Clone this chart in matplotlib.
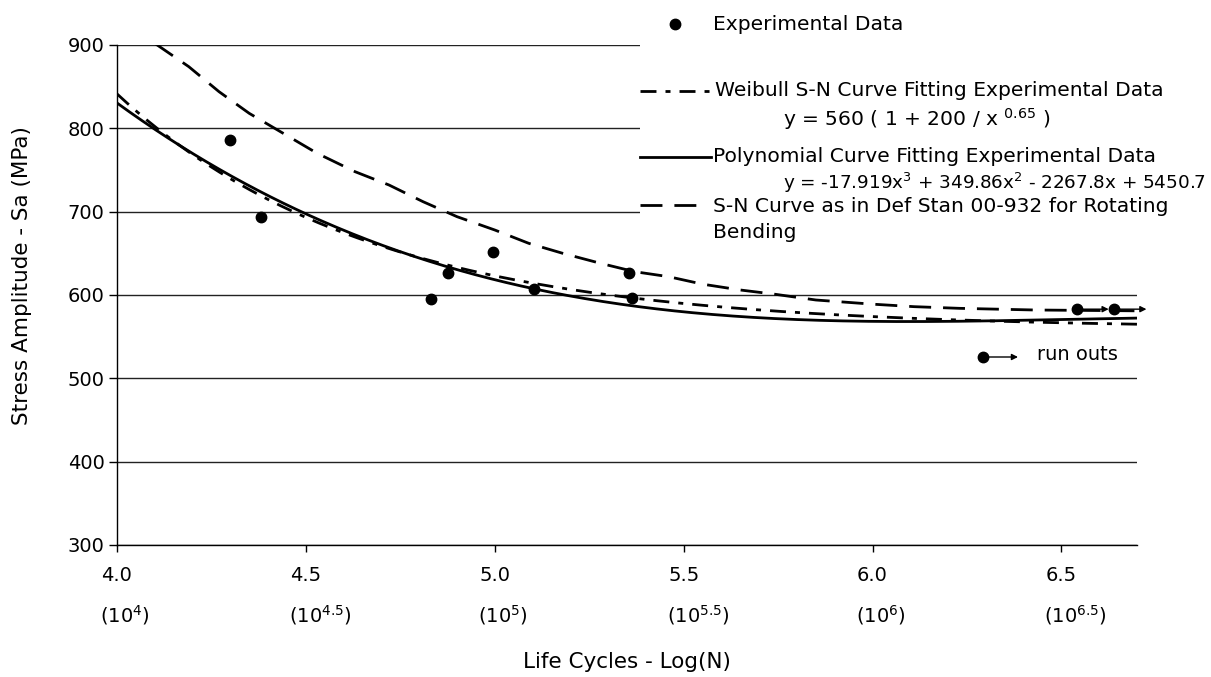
import matplotlib
matplotlib.use("Agg")
import numpy as np
import matplotlib.pyplot as plt
import matplotlib.transforms as mtransforms
from matplotlib.lines import Line2D
from matplotlib.patches import Rectangle, FancyArrowPatch

plt.rcParams["font.family"] = ["DejaVu Sans"]
plt.rcParams["mathtext.fontset"] = "dejavusans"
plt.rcParams["lines.scale_dashes"] = False

# ---- data -------------------------------------------------------------
# experimental fatigue results (log10 of cycles, stress amplitude in MPa)
exp_log_n = [4.30, 4.38, 4.83, 4.875, 4.995, 5.105, 5.355, 5.364]
exp_sa = [786, 694, 595, 626, 652, 607, 626, 596]

# specimens that did not fail (run outs)
runout_log_n = [6.54, 6.64]
runout_sa = [583, 583]

# Weibull S-N fit: y = S0 * (1 + A / N^B)
weibull_s0 = 560
weibull_a = 200
weibull_b = 0.65

# cubic polynomial fit in log(N)
poly_coef = [-17.919, 349.86, -2267.8, 5450.7]

# Def Stan 00-932 rotating bending curve
defstan_log_n = [4.10, 4.19, 4.27, 4.35, 4.44, 4.53, 4.63, 4.72, 4.81, 4.90,
                 5.00, 5.09, 5.18, 5.28, 5.37, 5.46, 5.55, 5.65, 5.74, 5.85,
                 6.00, 6.11, 6.23, 6.43, 6.70]
defstan_sa = [902, 874, 844, 818, 794, 770, 748, 732, 712, 694,
              678, 662, 650, 638, 628, 622, 613, 606, 601, 594,
              589, 586, 584, 582, 581]

x_ticks = [4.0, 4.5, 5.0, 5.5, 6.0, 6.5]
x_exponents = ["4", "4.5", "5", "5.5", "6", "6.5"]
y_ticks = [300, 400, 500, 600, 700, 800, 900]

# ---- styles -----------------------------------------------------------
FS = 14          # tick labels
FS_LEG = 14.6    # legend entries
FS_EQ = 13.2     # fitted equations
FS_AX = 15.5     # axis titles
W, H = 1211, 677
LW = 2.0
weibull_style = dict(color="black", lw=LW, linestyle=(0, (11.5, 6.5, 3.6, 6.5)))
poly_style = dict(color="black", lw=LW, linestyle="-")
defstan_style = dict(color="black", lw=LW, linestyle=(0, (15.8, 8.6)))
marker_style = dict(marker="o", markersize=7.5, color="black", linestyle="none")

fig = plt.figure(figsize=(W / 100, H / 100), dpi=100)
ax = fig.add_axes([117 / W, 132 / H, 1020 / W, 500 / H])


def fx(px):
    return px / W


def fy(py):
    return 1 - py / H


# ---- curves -----------------------------------------------------------
log_n = np.linspace(4.0, 6.7, 400)
weibull_sa = weibull_s0 * (1 + weibull_a / (10 ** log_n) ** weibull_b)
poly_sa = np.polyval(poly_coef, log_n)

ax.plot(log_n, weibull_sa, **weibull_style, zorder=3)
ax.plot(log_n, poly_sa, **poly_style, zorder=3)
ax.plot(defstan_log_n, defstan_sa, **defstan_style, zorder=3)

ax.plot(exp_log_n, exp_sa, **marker_style, zorder=4)
ax.plot(runout_log_n, runout_sa, **marker_style, zorder=4)
for xr, yr in zip(runout_log_n, runout_sa):
    ax.annotate("", xy=(xr + 0.085, yr), xytext=(xr, yr),
                arrowprops=dict(arrowstyle="-|>", lw=1.0, color="black",
                                mutation_scale=9, shrinkA=0, shrinkB=0),
                annotation_clip=False, zorder=5)

# ---- axes -------------------------------------------------------------
ax.set_xlim(4.0, 6.7)
ax.set_ylim(300, 900)
ax.set_yticks(y_ticks)
ax.set_yticklabels([str(v) for v in y_ticks])
ax.set_xticks(x_ticks)
ax.set_xticklabels([f"{v:.1f}" for v in x_ticks])
ax.yaxis.grid(True, color="#222222", lw=1.0)
ax.set_axisbelow(True)
for side in ("top", "right"):
    ax.spines[side].set_visible(False)
for side in ("left", "bottom"):
    ax.spines[side].set_linewidth(1.0)
ax.tick_params(axis="y", direction="out", length=6, width=1, labelsize=FS, pad=3)
ax.tick_params(axis="x", direction="out", length=5, width=1, labelsize=FS, pad=10)

# second row of x tick labels: cycles as powers of ten
for v, e in zip(x_ticks, x_exponents):
    tr = ax.get_xaxis_transform() + mtransforms.ScaledTranslation(
        -17 / 100, -70 / 100, fig.dpi_scale_trans)
    ax.text(v, 0, f"(10$^{{{e}}}$)", transform=tr, ha="left", va="center",
            fontsize=FS, clip_on=False)

fig.text(fx(627), fy(662), "Life Cycles - Log(N)", ha="center", va="center",
         fontsize=FS_AX)
fig.text(fx(22), fy(276), "Stress Amplitude - Sa (MPa)", ha="center",
         va="center", rotation=90, fontsize=FS_AX)

# ---- legend -----------------------------------------------------------
fig.add_artist(Rectangle((fx(640), fy(245)), fx(1211) - fx(640), fy(0) - fy(245),
                         transform=fig.transFigure, facecolor="white",
                         edgecolor="none", zorder=1))

fig.add_artist(Line2D([fx(675)], [fy(24)], transform=fig.transFigure,
                      **marker_style, zorder=2))
fig.text(fx(713), fy(24), "Experimental Data", ha="left", va="center",
         fontsize=FS_LEG, zorder=2)

fig.add_artist(Line2D([fx(640), fx(711)], [fy(91), fy(91)],
                      transform=fig.transFigure, **weibull_style, zorder=2))
fig.text(fx(715), fy(91), "Weibull S-N Curve Fitting Experimental Data",
         ha="left", va="center", fontsize=FS_LEG, zorder=2)
fig.text(fx(783), fy(119), "y = 560 ( 1 + 200 / x $^{0.65}$ )",
         ha="left", va="center", fontsize=FS_LEG, zorder=2)

fig.add_artist(Line2D([fx(640), fx(711)], [fy(157), fy(157)],
                      transform=fig.transFigure, **poly_style, zorder=2))
fig.text(fx(713), fy(157), "Polynomial Curve Fitting Experimental Data",
         ha="left", va="center", fontsize=FS_LEG, zorder=2)
fig.text(fx(783), fy(183),
         "y = -17.919x$^{3}$ + 349.86x$^{2}$ - 2267.8x + 5450.7",
         ha="left", va="center", fontsize=FS_EQ, zorder=2)

fig.add_artist(Line2D([fx(640), fx(702)], [fy(205), fy(205)],
                      transform=fig.transFigure, **defstan_style, zorder=2))
fig.text(fx(713), fy(206), "S-N Curve as in Def Stan 00-932 for Rotating",
         ha="left", va="center", fontsize=FS_LEG, zorder=2)
fig.text(fx(713), fy(233), "Bending", ha="left", va="center",
         fontsize=FS_LEG, zorder=2)

# run-out key inside the plot
fig.add_artist(Line2D([fx(983)], [fy(357)], transform=fig.transFigure,
                      **marker_style, zorder=2))
fig.add_artist(FancyArrowPatch(
    (fx(983), fy(357)), (fx(1018), fy(357)), transform=fig.transFigure,
    arrowstyle="-|>", mutation_scale=9, lw=1.0, color="black",
    shrinkA=0, shrinkB=0, zorder=2))
fig.text(fx(1037), fy(354), "run outs", ha="left", va="center", fontsize=FS,
         zorder=2)

fig.savefig("out.png", dpi=100, facecolor="white")
